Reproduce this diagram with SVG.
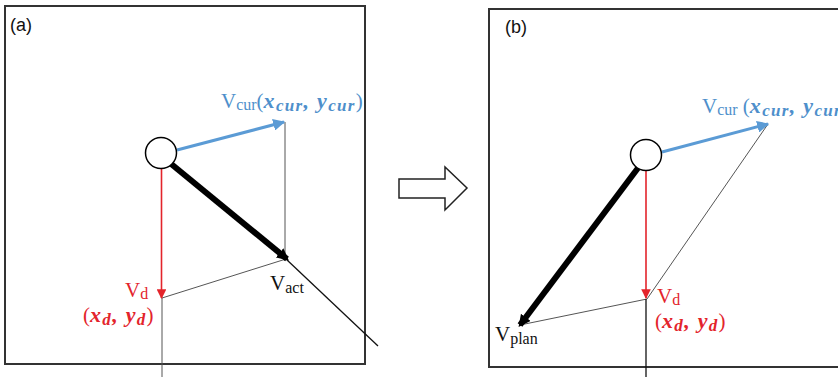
<svg xmlns="http://www.w3.org/2000/svg" width="838" height="377" viewBox="0 0 838 377">
<defs>
<marker id="ab" viewBox="0 0 10 10" refX="9" refY="5" markerWidth="4" markerHeight="4" orient="auto" markerUnits="strokeWidth"><path d="M0,0 L10,5 L0,10 z" fill="#5b9bd5"/></marker>
<marker id="ar" viewBox="0 0 10 10" refX="9" refY="5" markerWidth="6" markerHeight="6" orient="auto" markerUnits="strokeWidth"><path d="M0,0 L10,5 L0,10 z" fill="#e3242b"/></marker>
<marker id="ak" viewBox="0 0 10 10" refX="8" refY="5" markerWidth="2" markerHeight="2" orient="auto" markerUnits="strokeWidth"><path d="M0,0 L10,5 L0,10 z" fill="#000"/></marker>
</defs>
<style>
.box{fill:#fff;stroke:#333;stroke-width:2}
.thin{stroke:#555;stroke-width:1;fill:none}
.blk{stroke:#111;stroke-width:1.3;fill:none}
.thick{stroke:#000;stroke-width:6;fill:none}
.blue{stroke:#5b9bd5;stroke-width:3;fill:none}
.red{stroke:#e3242b;stroke-width:1.6;fill:none}
.node{fill:#fff;stroke:#000;stroke-width:1.5}
.lab{font-family:"Liberation Sans",Arial,sans-serif;font-size:18px;fill:#111}
.sv{font-family:"Liberation Serif","Times New Roman",serif;font-size:21px}
.sub{font-size:16px}
.co{font-family:"Liberation Serif","Times New Roman",serif;font-weight:bold;font-style:italic;font-size:22px;letter-spacing:1.3px}
.cs{font-size:17px}
.cb{fill:#4e8fcb}
.cr{fill:#e3242b}
.ck{fill:#111}
</style>
<rect class="box" x="5" y="6" width="360" height="358"/>
<rect class="box" x="489" y="9" width="360" height="358"/>
<text class="lab" x="10" y="31">(a)</text>
<text class="lab" x="505" y="33">(b)</text>
<polygon points="399,179 445,179 445,167 467,188 445,210 445,198 399,198" fill="#fff" stroke="#222" stroke-width="1.5"/>
<g id="connectors">
<line class="thin" x1="285" y1="122" x2="285" y2="258"/>
<line class="thin" x1="162" y1="298" x2="286" y2="259"/>
<line class="thin" x1="162" y1="298" x2="162" y2="377"/>
<line class="blk" x1="286" y1="259" x2="378" y2="346"/>
<line class="thick" x1="170" y1="163" x2="287" y2="259" marker-end="url(#ak)"/>
<line class="blue" x1="177" y1="150" x2="284" y2="122" marker-end="url(#ab)"/>
<line class="red" x1="161.5" y1="168" x2="161.5" y2="298" marker-end="url(#ar)"/>
<line class="thin" x1="768" y1="124" x2="647" y2="299"/>
<line class="thin" x1="520" y1="325" x2="647" y2="299"/>
<line class="blk" x1="646" y1="299" x2="646" y2="377"/>
<line class="thick" x1="638" y1="168" x2="520" y2="325" marker-end="url(#ak)"/>
<line class="blue" x1="662" y1="152" x2="768" y2="124" marker-end="url(#ab)"/>
<line class="red" x1="646" y1="171" x2="646" y2="298" marker-end="url(#ar)"/>
</g>
<g id="node-a"><circle class="node" cx="161" cy="153" r="15.5"/></g>
<g id="node-b"><circle class="node" cx="646" cy="155" r="15.5"/></g>
<g id="labels-a">
<text x="221" y="108" class="cb"><tspan class="sv">V</tspan><tspan class="sv sub" dy="2">cur</tspan><tspan class="sv" dy="-2">(</tspan><tspan class="co">x</tspan><tspan class="co cs" dy="3">cur</tspan><tspan class="co" dy="-3">, </tspan><tspan class="co">y</tspan><tspan class="co cs" dy="3">cur</tspan><tspan class="sv" dy="-3">)</tspan></text>
<text x="125" y="297" class="cr"><tspan class="sv">V</tspan><tspan class="sv sub" dy="2">d</tspan></text>
<text x="83" y="322" class="cr"><tspan class="sv">(</tspan><tspan class="co">x</tspan><tspan class="co cs" dy="3">d</tspan><tspan class="co" dy="-3">, y</tspan><tspan class="co cs" dy="3">d</tspan><tspan class="sv" dy="-3">)</tspan></text>
<text x="270" y="290" class="ck"><tspan class="sv">V</tspan><tspan class="sv sub" dy="3">act</tspan></text>
</g>
<g id="labels-b">
<text x="702" y="113" class="cb"><tspan class="sv">V</tspan><tspan class="sv sub" dy="2">cur</tspan><tspan class="sv" dy="-2"> (</tspan><tspan class="co">x</tspan><tspan class="co cs" dy="3">cur</tspan><tspan class="co" dy="-3">, </tspan><tspan class="co">y</tspan><tspan class="co cs" dy="3">cur</tspan><tspan class="sv" dy="-3">)</tspan></text>
<text x="657" y="303" class="cr"><tspan class="sv">V</tspan><tspan class="sv sub" dy="2">d</tspan></text>
<text x="655" y="328" class="cr"><tspan class="sv">(</tspan><tspan class="co">x</tspan><tspan class="co cs" dy="3">d</tspan><tspan class="co" dy="-3">, y</tspan><tspan class="co cs" dy="3">d</tspan><tspan class="sv" dy="-3">)</tspan></text>
<text x="495" y="341" class="ck"><tspan class="sv">V</tspan><tspan class="sv sub" dy="3">plan</tspan></text>
</g>
</svg>
